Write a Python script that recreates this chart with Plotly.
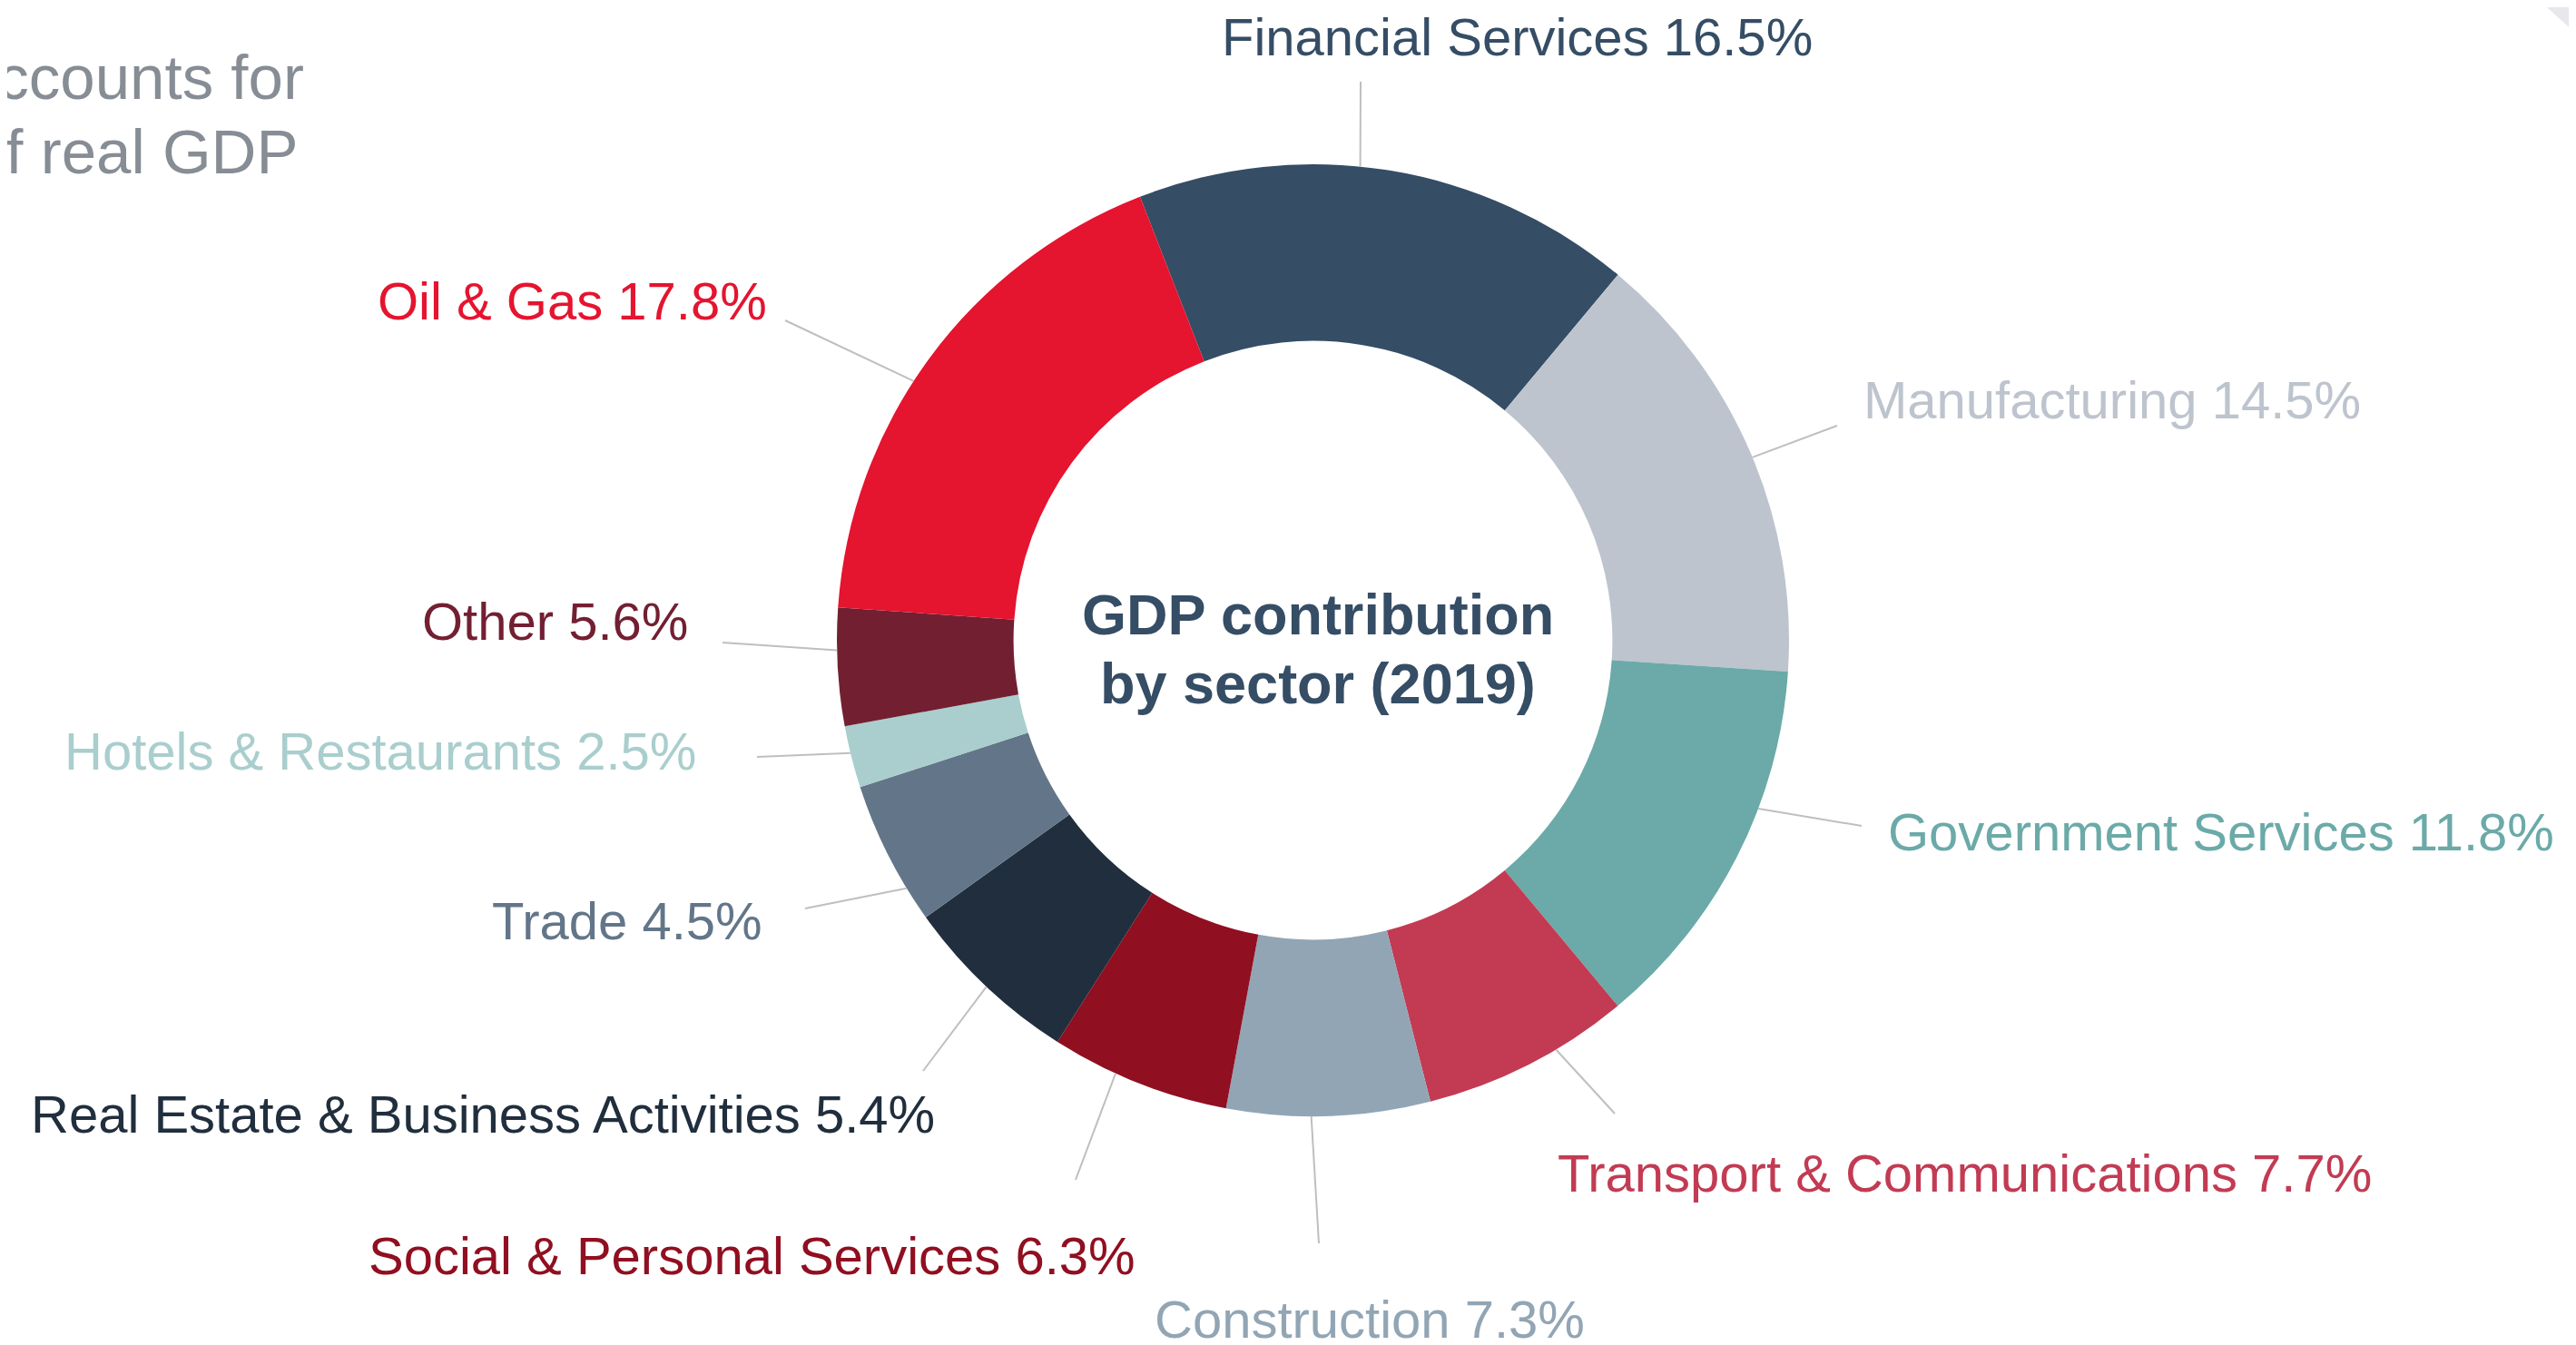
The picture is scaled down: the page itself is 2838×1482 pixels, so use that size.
import math
import plotly.graph_objects as go

W, H = 2838, 1482          # browser window
PAD = 8                     # default <body> margin of the html page
FW, FH = W - PAD, H - PAD   # figure size so that it fits the window

# ---------------- data ----------------
sectors = ["Financial Services", "Manufacturing", "Government Services",
           "Transport & Communications", "Construction",
           "Social & Personal Services", "Real Estate & Business Activities",
           "Trade", "Hotels & Restaurants", "Other", "Oil & Gas"]
label_pct = [16.5, 14.5, 11.8, 7.7, 7.3, 6.3, 5.4, 4.5, 2.5, 5.6, 17.8]
# slice sizes as drawn in the picture (share of the ring)
slice_share = [17.0, 15.0, 12.9, 7.1, 6.9, 6.1, 6.1, 4.9, 2.1, 4.0, 18.0]
colors = ["#354D65", "#BDC4CE", "#6BAAA8", "#C23B53", "#92A5B4",
          "#900F20", "#202E3D", "#637689", "#A9CECD", "#731F32", "#E5142F"]
center_title = ["GDP contribution", "by sector (2019)"]
side_text = ["accounts for", "of real GDP"]

# ---------------- layout / style (window pixels) ----------------
CX, CY, R = 1446.5, 705.5, 524.5      # donut centre and outer radius
HOLE = 0.629
ROTATION = -21.3
FONT = "Liberation Sans, Arial, Helvetica, sans-serif"
LABEL_SIZE = 58
LINE_COLOR = "#BFBFBF"

# per label: where the leader line leaves the ring (degrees clockwise from
# 12 o'clock), leader-line outer end, text anchor and horizontal anchor
label_layout = [
    (5.7, (1499, 90), (1671, 40), "center"),
    (67.4, (2024, 469), (2051, 440), "left"),
    (110.7, (2051, 910), (2078, 916), "left"),
    (149.3, (1779, 1227), (2164, 1292), "center"),
    (180.2, (1453, 1370), (1509, 1453), "center"),
    (204.5, (1185, 1300), (828, 1383), "center"),
    (223.3, (1017, 1180), (1032, 1227), "right"),
    (238.6, (887, 1001), (842, 1014), "right"),
    (256.3, (834, 834), (769, 827), "right"),
    (268.8, (796, 708), (760, 684), "right"),
    (303.0, (865, 353), (847, 331), "right"),
]


def px(x):
    return (x - PAD) / FW


def py(y):
    return 1 - (y - PAD) / FH


fig = go.Figure()
fig.add_trace(go.Pie(
    labels=sectors,
    values=slice_share,
    sort=False,
    direction="clockwise",
    rotation=ROTATION,
    hole=HOLE,
    marker=dict(colors=colors, line=dict(width=0)),
    textinfo="none",
    hoverinfo="label",
    showlegend=False,
    domain=dict(x=[px(CX - R), px(CX + R)], y=[py(CY + R), py(CY - R)]),
))

shapes = []
annotations = []
for i, name in enumerate(sectors):
    ang, (ex, ey), (tx, ty), anchor = label_layout[i]
    a = math.radians(ang)
    sx, sy = CX + R * math.sin(a), CY - R * math.cos(a)
    shapes.append(dict(type="line", xref="paper", yref="paper",
                       x0=px(sx), y0=py(sy), x1=px(ex), y1=py(ey),
                       line=dict(color=LINE_COLOR, width=2)))
    annotations.append(dict(
        text=f"{name} {label_pct[i]}%", x=px(tx), y=py(ty),
        xref="paper", yref="paper", xanchor=anchor, yanchor="middle",
        showarrow=False,
        font=dict(family=FONT, size=LABEL_SIZE, color=colors[i])))

# centre title
for line, yy in zip(center_title, [677, 753]):
    annotations.append(dict(
        text=f"<b>{line}</b>", x=px(1452), y=py(yy), xref="paper", yref="paper",
        xanchor="center", yanchor="middle", showarrow=False,
        font=dict(family=FONT, size=63, color="#354D65")))

# side text (cut at the left edge of the slide)
for line, xx, yy in zip(side_text, [337, 330], [85, 168]):
    annotations.append(dict(
        text=line, x=px(xx), y=py(yy), xref="paper", yref="paper",
        xanchor="right", yanchor="middle", showarrow=False,
        font=dict(family=FONT, size=69, color="#878D95")))

# decorative corner
shapes.append(dict(type="path", xref="paper", yref="paper",
                   path=f"M {px(2797)} {py(0)} L {px(2838)} {py(0)} L {px(2838)} {py(37)} Z",
                   fillcolor="#E6E8EC", line=dict(width=0)))

fig.update_layout(
    width=FW, height=FH,
    margin=dict(l=0, r=0, t=0, b=0, autoexpand=False),
    paper_bgcolor="white", plot_bgcolor="white",
    shapes=shapes, annotations=annotations,
)

fig.write_html("out.html")
